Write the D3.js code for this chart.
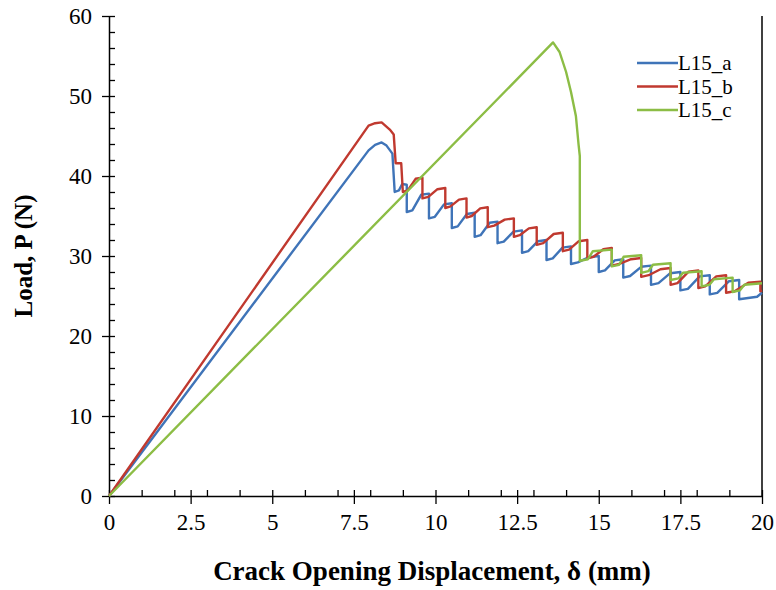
<!DOCTYPE html>
<html>
<head>
<meta charset="utf-8">
<script src="https://cdn.jsdelivr.net/npm/d3@7"></script>
<style>
  html, body { margin: 0; padding: 0; background: #fff; }
  svg { display: block; }
  text { font-family: "Liberation Serif", "Times New Roman", serif; }
</style>
</head>
<body>
<svg id="chart" width="776" height="590"></svg>
<script>
// ---------------- data ----------------
const seriesNames = ["L15_a", "L15_b", "L15_c"];
const seriesColors = ["#3f74b8", "#c0392f", "#8cbd45"];

const xTicks = [0, 2.5, 5, 7.5, 10, 12.5, 15, 17.5, 20];
const yTicks = [0, 10, 20, 30, 40, 50, 60];

// L15_a : [displacement (mm), load (N)]
const seriesA = [
  [0,0],[7.95,43.2],[8.15,43.9],[8.35,44.2],[8.5,43.8],[8.68,42.8],[8.75,38.0],
  [8.88,38.2],[8.98,39.0],[9.12,38.9],[9.12,35.5],
  [9.29,35.7],[9.56,37.65],[9.8,37.8],[9.8,34.7],
  [9.98,34.9],[10.26,36.45],[10.5,36.6],[10.5,33.5],
  [10.68,33.7],[10.96,35.25],[11.2,35.4],[11.2,32.4],
  [11.38,32.6],[11.66,34.15],[11.9,34.3],[11.9,31.6],
  [12.09,31.8],[12.39,33.05],[12.65,33.2],[12.65,30.4],
  [12.84,30.6],[13.14,31.85],[13.4,32.0],[13.4,29.5],
  [13.59,29.7],[13.89,31.05],[14.15,31.2],[14.15,29.0],
  [14.36,29.2],[14.7,29.85],[15.0,30.0],[15.0,28.0],
  [15.19,28.2],[15.49,29.45],[15.75,29.6],[15.75,27.3],
  [15.96,27.5],[16.3,28.65],[16.6,28.8],[16.6,26.4],
  [16.83,26.6],[17.19,27.85],[17.5,28.0],[17.5,25.7],
  [17.73,25.9],[18.09,27.45],[18.4,27.6],[18.4,25.2],
  [18.63,25.4],[18.99,26.85],[19.3,27.0],[19.3,24.6],
  [19.85,24.9],[20,25.4]
];

// L15_b
const seriesB = [
  [0,0],[7.95,46.3],[8.15,46.6],[8.35,46.7],[8.6,45.8],[8.72,45.2],[8.78,41.6],
  [8.95,41.6],[9.0,38.0],
  [9.15,38.2],[9.39,39.65],[9.6,39.8],[9.6,37.2],
  [9.78,37.4],[10.06,38.35],[10.3,38.5],[10.3,36.0],
  [10.46,36.2],[10.72,37.05],[10.95,37.2],[10.95,34.8],
  [11.11,35.0],[11.37,35.95],[11.6,36.1],[11.6,33.6],
  [11.8,33.8],[12.12,34.55],[12.4,34.7],[12.4,32.4],
  [12.58,32.6],[12.86,33.45],[13.1,33.6],[13.1,31.4],
  [13.3,31.6],[13.62,32.75],[13.9,32.9],[13.9,30.6],
  [14.09,30.8],[14.39,31.85],[14.65,32.0],[14.65,29.7],
  [14.84,29.9],[15.14,30.85],[15.4,31.0],[15.4,28.8],
  [15.63,29.0],[15.99,29.6],[16.3,29.75],[16.3,27.4],
  [16.53,27.6],[16.89,28.35],[17.2,28.5],[17.2,26.4],
  [17.41,26.6],[17.75,28.05],[18.05,28.2],[18.05,26.0],
  [18.26,26.2],[18.6,27.45],[18.9,27.6],[18.9,25.4],
  [19.16,25.6],[19.58,26.65],[19.95,26.8],[19.95,25.6],[20,25.7]
];

// L15_c
const seriesC = [
  [0,0],[13.6,56.7],[13.8,55.5],[14.0,53.0],[14.15,50.5],[14.3,47.5],[14.38,44.0],
  [14.42,42.5],[14.42,29.4],
  [14.67,29.6],[14.82,30.6],[15.4,30.8],[15.4,28.7],
  [15.62,28.9],[15.76,29.9],[16.3,30.1],[16.3,27.9],
  [16.52,28.1],[16.66,28.9],[17.2,29.1],[17.2,27.0],
  [17.44,27.2],[17.58,27.9],[18.15,28.1],[18.15,26.2],
  [18.39,26.4],[18.53,27.1],[19.1,27.3],[19.1,25.5],
  [19.32,25.7],[19.46,26.4],[20,26.6]
];

const allSeries = [seriesA, seriesB, seriesC];

// ---------------- chart ----------------
const svg = d3.select("#chart");
const x = d3.scaleLinear().domain([0, 20]).range([109, 762]);
const y = d3.scaleLinear().domain([0, 60]).range([496, 16]);

// minor ticks
const xMinor = d3.range(0, 21, 1).filter(v => v % 2.5 !== 0);
const yMinor = d3.range(0, 61, 2).filter(v => v % 10 !== 0);

svg.append("g")
  .attr("transform", `translate(0,${y(0)})`)
  .call(d3.axisBottom(x).tickValues(xMinor).tickSize(-6).tickFormat(""))
  .call(g => g.select(".domain").remove())
  .call(g => g.selectAll(".tick line").attr("stroke", "#000").attr("stroke-width", 1.3));

svg.append("g")
  .attr("transform", `translate(${x(0)},0)`)
  .call(d3.axisLeft(y).tickValues(yMinor).tickSize(-6).tickFormat(""))
  .call(g => g.select(".domain").remove())
  .call(g => g.selectAll(".tick line").attr("stroke", "#000").attr("stroke-width", 1.3));

// main x axis
const xAxis = svg.append("g")
  .attr("transform", `translate(0,${y(0)})`)
  .call(d3.axisBottom(x).tickValues(xTicks).tickSize(8).tickPadding(10).tickSizeOuter(0)
        .tickFormat(d => String(d)));
xAxis.select(".domain").attr("stroke", "#000").attr("stroke-width", 1.5);
xAxis.selectAll(".tick line").attr("y1", -6).attr("y2", 8).attr("stroke", "#000").attr("stroke-width", 1.3);
xAxis.selectAll(".tick text")
  .attr("font-size", 23).attr("fill", "#000");

// main y axis
const yAxis = svg.append("g")
  .attr("transform", `translate(${x(0)},0)`)
  .call(d3.axisLeft(y).tickValues(yTicks).tickSize(7).tickPadding(10).tickSizeOuter(0));
yAxis.select(".domain").attr("stroke", "#000").attr("stroke-width", 1.5);
yAxis.selectAll(".tick line").attr("x1", -7).attr("x2", 6).attr("stroke", "#000").attr("stroke-width", 1.3);
yAxis.selectAll(".tick text")
  .attr("font-size", 23).attr("fill", "#000");

// right border
svg.append("line")
  .attr("x1", x(20)).attr("x2", x(20)).attr("y1", y(60)).attr("y2", y(0))
  .attr("stroke", "#000").attr("stroke-width", 1.5);

// series lines
const line = d3.line().x(d => x(d[0])).y(d => y(d[1]));
allSeries.forEach((s, i) => {
  svg.append("path")
    .datum(s)
    .attr("fill", "none")
    .attr("stroke", seriesColors[i])
    .attr("stroke-width", 2.4)
    .attr("stroke-linejoin", "round")
    .attr("d", line);
});

// legend
const legend = svg.append("g").attr("transform", "translate(637,63)");
seriesNames.forEach((name, i) => {
  const g = legend.append("g").attr("transform", `translate(0,${i * 23.5})`);
  g.append("line").attr("x1", 0).attr("x2", 41).attr("y1", 0).attr("y2", 0)
    .attr("stroke", seriesColors[i]).attr("stroke-width", 2.4);
  g.append("text").attr("x", 41).attr("y", 7)
    .attr("font-size", 21).attr("fill", "#000").text(name);
});

// axis titles
svg.append("text")
  .attr("x", 432).attr("y", 580)
  .attr("text-anchor", "middle")
  .attr("font-size", 27).attr("font-weight", "bold").attr("fill", "#000")
  .text("Crack Opening Displacement, δ (mm)");

svg.append("text")
  .attr("transform", "translate(32,256) rotate(-90)")
  .attr("text-anchor", "middle")
  .attr("font-size", 25).attr("font-weight", "bold").attr("fill", "#000")
  .text("Load, P (N)");
</script>
</body>
</html>
